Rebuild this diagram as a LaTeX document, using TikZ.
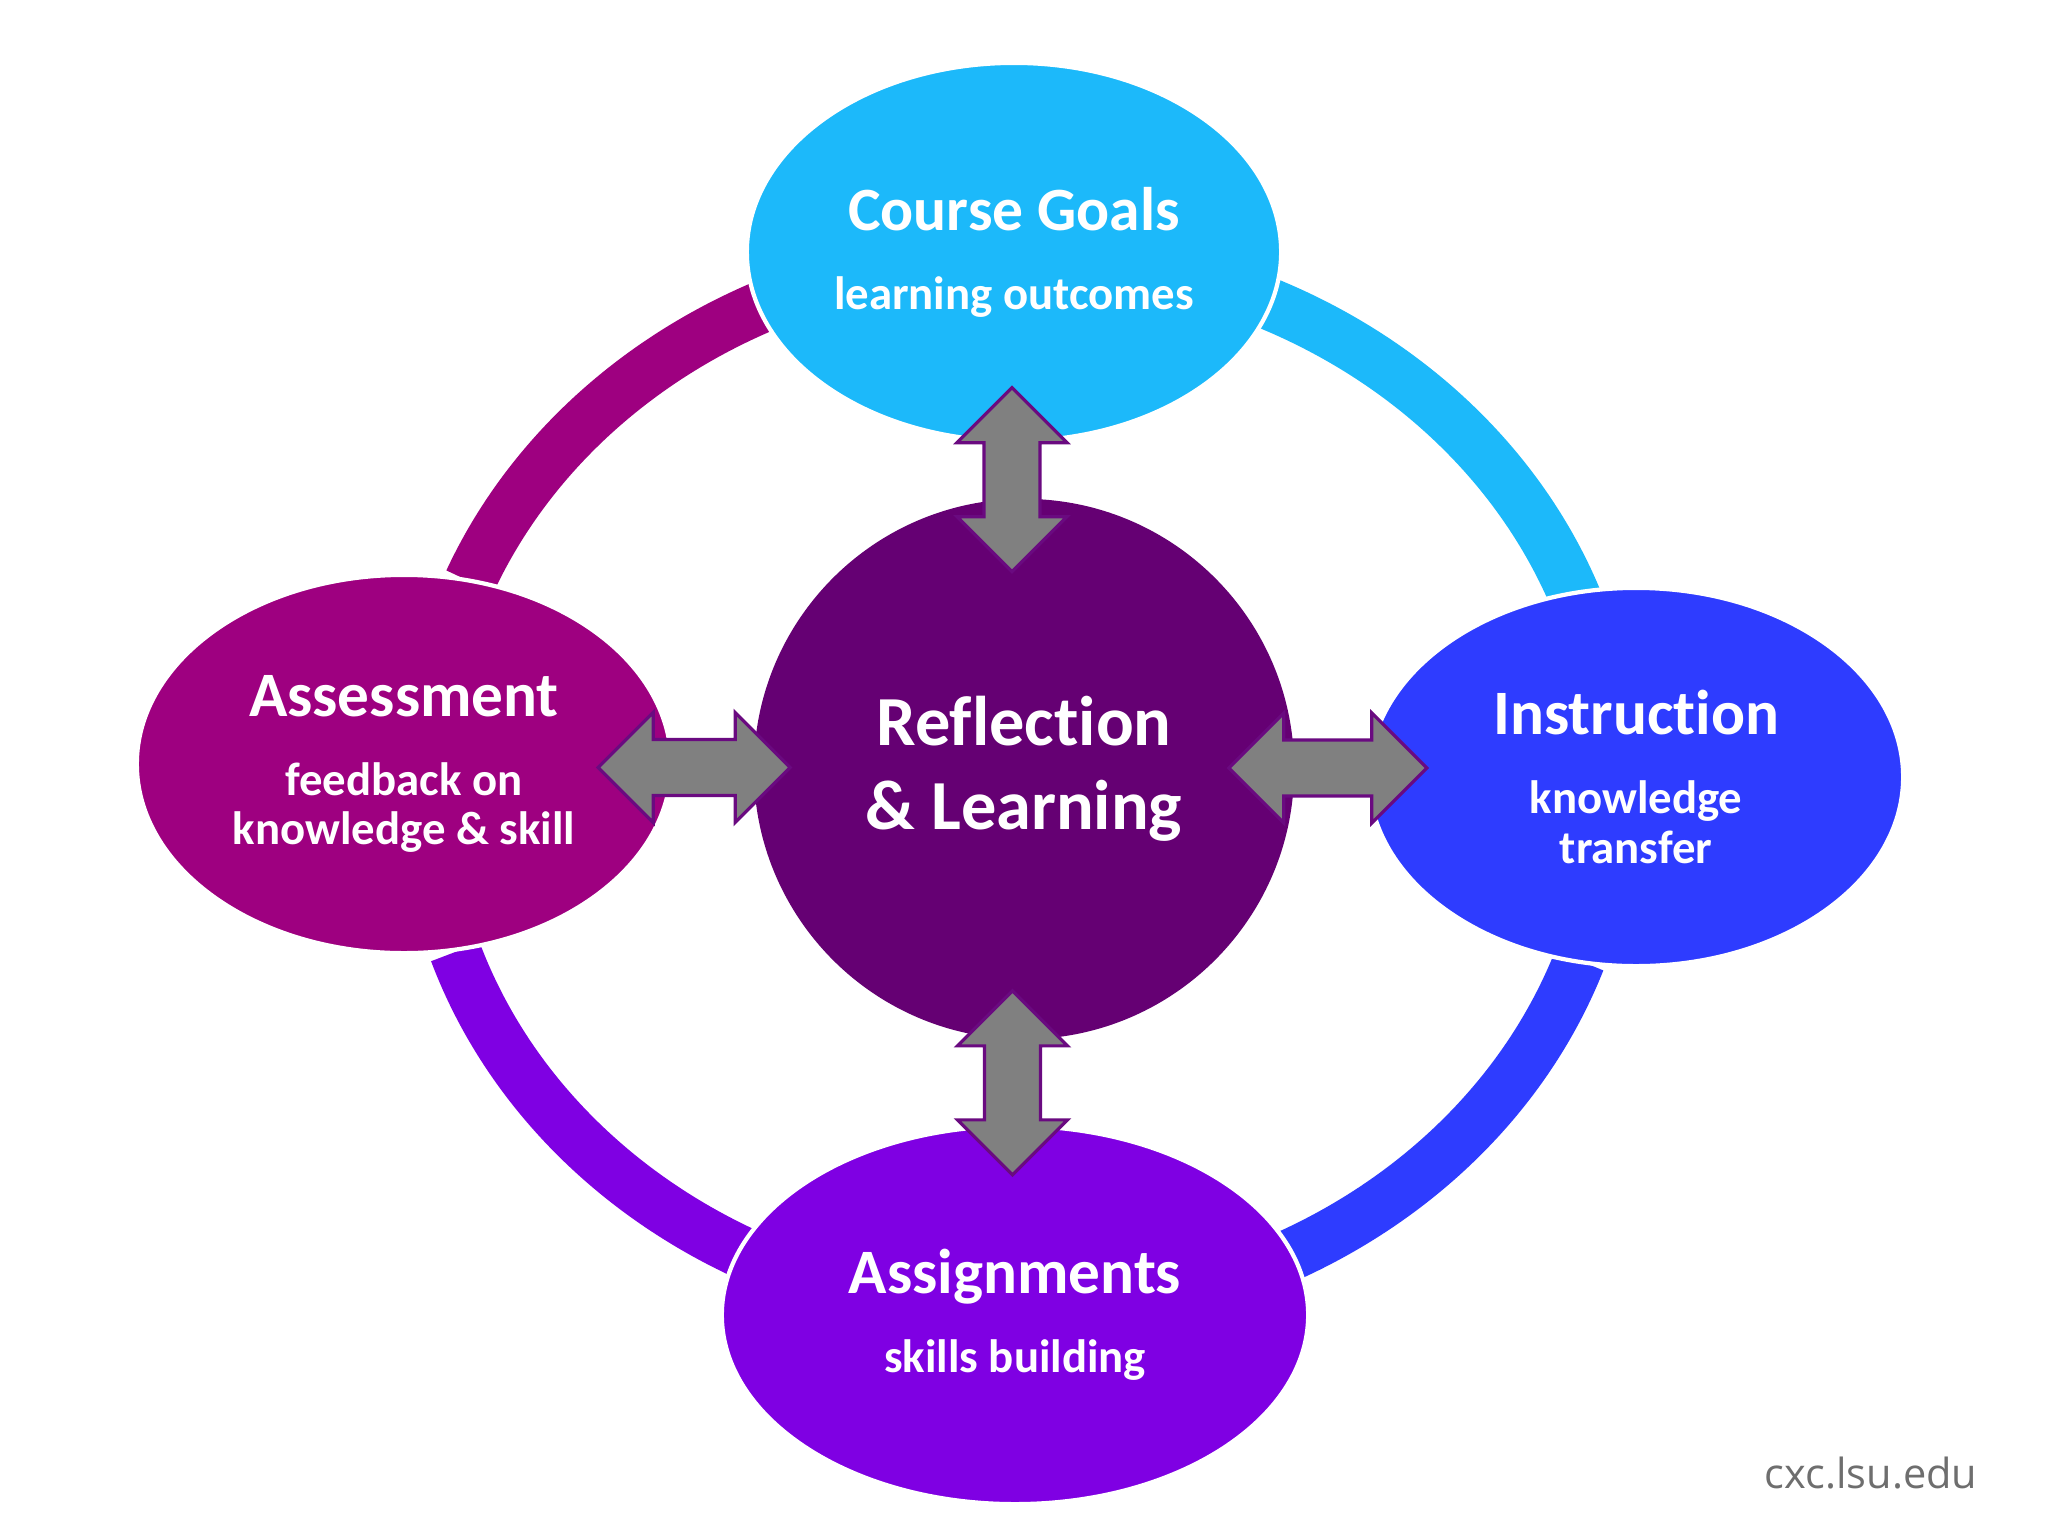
\documentclass[tikz,border=0pt]{standalone}
\usepackage{fontspec}
\setmainfont{Carlito}[Ligatures={NoCommon}]
\newfontfamily\sitefont{Open Sans}
\usetikzlibrary{shapes.geometric,calc}

\definecolor{goalcol}{HTML}{1CB9FA}
\definecolor{instrcol}{HTML}{2E3CFF}
\definecolor{assigncol}{HTML}{7F00E3}
\definecolor{assesscol}{HTML}{9E0080}
\definecolor{reflcol}{HTML}{650073}
\definecolor{arrowedge}{HTML}{6A0A80}

\newcommand{\ttl}[1]{{\fontsize{18}{22}\selectfont #1}}

\tikzset{
  stage/.style={ellipse, fill=#1, draw=white, line width=1.2pt,
    minimum width=5.34cm, minimum height=3.78cm, inner sep=0pt,
    text=white, align=center, font=\bfseries\fontsize{13.3}{14}\selectfont},
  ring/.style={line width=0.52cm, draw=#1},
  pics/fatarrow/.style={code={
    \filldraw[fill=gray, draw=arrowedge, line width=0.9pt]
      (-#1,0) -- (-#1+55,-55) -- (-#1+55,-28) -- (#1-55,-28) -- (#1-55,-55) -- (#1,0)
      -- (#1-55,55) -- (#1-55,28) -- (-#1+55,28) -- (-#1+55,55) -- cycle;
  }}
}

\begin{document}
\begin{tikzpicture}[x=0.01cm, y=-0.01cm]

\fill[white] (0,0) rectangle (2048,1536);
\useasboundingbox (0,0) rectangle (2048,1536);

% outer ring, one arc per stage
\coordinate (ringc) at (1019,784);
\draw[ring=goalcol] (ringc) ++(20.5:5.94cm and 5.29cm) arc[start angle=20.5, end angle=80, x radius=5.94cm, y radius=5.29cm];
\draw[ring=assesscol] (ringc) ++(105:5.94cm and 5.29cm) arc[start angle=105, end angle=157.5, x radius=5.94cm, y radius=5.29cm];
\draw[ring=assigncol] (ringc) ++(198.5:5.94cm and 5.29cm) arc[start angle=198.5, end angle=260, x radius=5.94cm, y radius=5.29cm];
\draw[ring=instrcol] (ringc) ++(280:5.94cm and 5.29cm) arc[start angle=280, end angle=340.5, x radius=5.94cm, y radius=5.29cm];

\node[stage=goalcol] (goals) at (1014,252) {{\fontsize{17.5}{22}\selectfont Course Goals}\\[8.5pt]learning outcomes};
\node[stage=assesscol] (assess) at (404,764) {\ttl{Assessment}\\[8.5pt]feedback on\\knowledge \& skill};
\node[stage=instrcol] (instr) at (1636,777) {\ttl{Instruction}\\[8.5pt]knowledge\\transfer};
\node[stage=assigncol, minimum width=5.86cm] (assign) at (1015,1315) {\ttl{Assignments}\\[8.5pt]skills building};

\node[circle, fill=reflcol, minimum size=5.4cm, inner sep=0pt, text=white, align=center,
  font=\bfseries\fontsize{20}{24}\selectfont] (refl) at (1024,769) {Reflection\\\& Learning};

% block arrows between centre and stages
\pic[rotate=90] at ($(goals.south)!.5!(refl.north)+(-7,9)$) {fatarrow=92};
\pic[rotate=90] at ($(refl.south)!.5!(assign.north)+(-7,1)$) {fatarrow=92};
\pic at ($(assess.east)!.5!(refl.west)+(-19,1)$) {fatarrow=96};
\pic at ($(refl.east)!.5!(instr.west)+(-3,-5)$) {fatarrow=99};

\node[font=\sitefont\fontsize{11.8}{14}\selectfont, text=black!57] (site) at (1871,1473) {cxc.lsu.edu};

\end{tikzpicture}
\end{document}
